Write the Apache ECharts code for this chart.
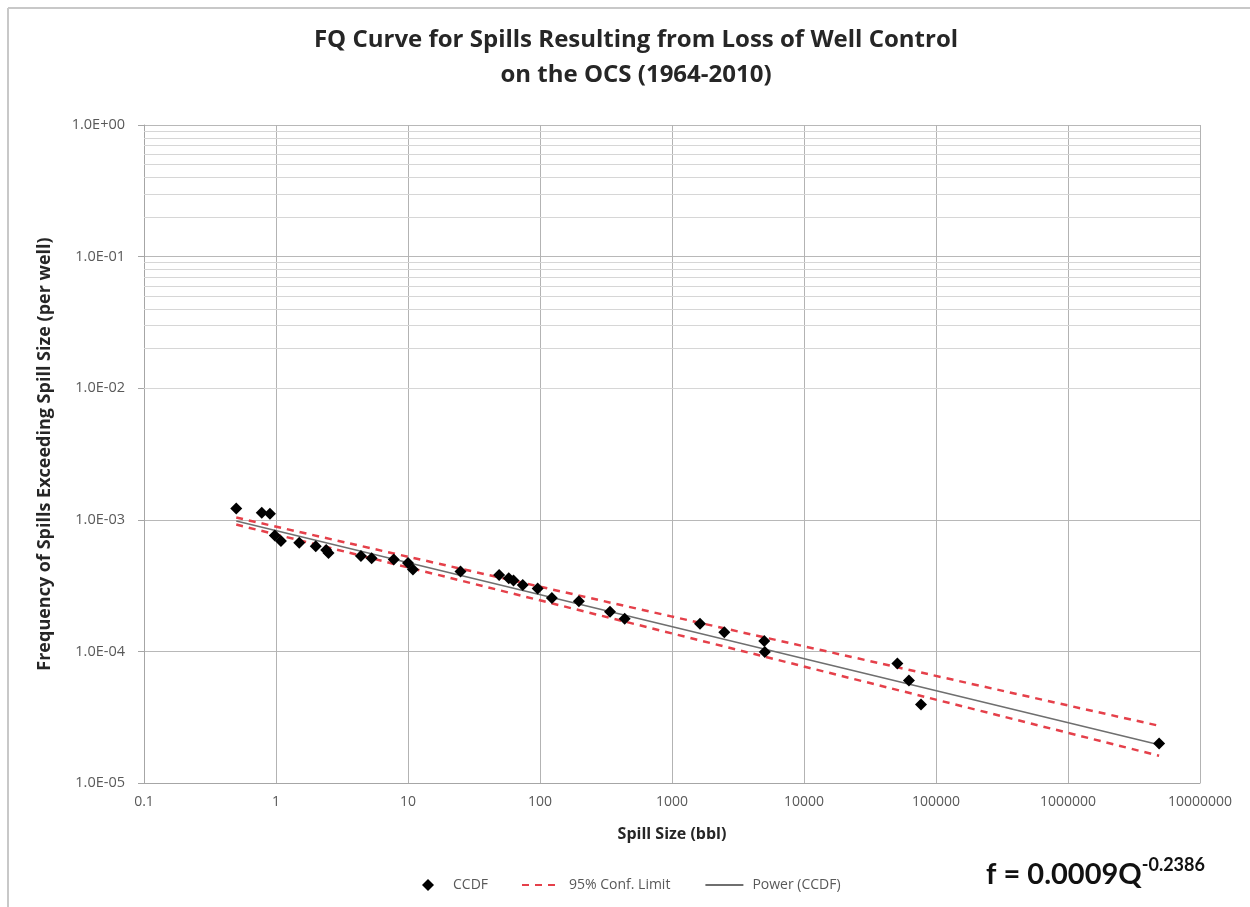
<!DOCTYPE html>
<html>
<head>
<meta charset="utf-8">
<script src="https://cdn.jsdelivr.net/npm/echarts@6/dist/echarts.min.js"></script>
<style>
  html, body { margin: 0; padding: 0; background: #fff; }
  #chart { width: 1250px; height: 907px; }
</style>
</head>
<body>
<div id="chart"></div>
<script>
// spill size (bbl) and frequency of spills exceeding that size (per well)
const ccdfSize = [0.5, 0.78, 0.9, 0.98, 1.09, 1.5, 2.0, 2.4, 2.5, 4.4, 5.3, 7.8, 10, 10.9, 25, 49, 58, 63, 74, 96,
  123, 197, 339, 438, 1630, 2490, 5000, 5050, 51000, 62400, 77000, 4900000];
const ccdfFreq = [1.22e-3, 1.13e-3, 1.11e-3, 7.6e-4, 6.9e-4, 6.7e-4, 6.3e-4, 5.9e-4, 5.6e-4, 5.3e-4, 5.1e-4, 5.0e-4,
  4.7e-4, 4.2e-4, 4.05e-4, 3.8e-4, 3.6e-4, 3.45e-4, 3.2e-4, 3.0e-4, 2.55e-4, 2.4e-4, 2.0e-4, 1.77e-4,
  1.62e-4, 1.4e-4, 1.2e-4, 9.9e-5, 8.1e-5, 6.0e-5, 3.95e-5, 2.0e-5];

// power trend line
const powerSize = [0.5, 4900000];
const powerFreq = [9.8e-4, 1.95e-5];

// 95% confidence limits
const confSize = [0.5, 1000, 4900000];
const confUpper = [1.04e-3, 1.84e-4, 2.72e-5];
const confLower = [9.2e-4, 1.37e-4, 1.61e-5];

const xTicks = ['0.1', '1', '10', '100', '1000', '10000', '100000', '1000000', '10000000'];
const yTicks = ['1.0E-05', '1.0E-04', '1.0E-03', '1.0E-02', '1.0E-01', '1.0E+00'];

// minor horizontal gridlines at 2..9 x each decade
const minorY = [];
for (let e = -5; e < 0; e++) {
  for (let m = 2; m <= 9; m++) minorY.push(m * Math.pow(10, e));
}

const zip = (a, b) => a.map((v, i) => [v, b[i]]);
const font = '"Open Sans", sans-serif';
const font2 = 'Lato, sans-serif';

const chart = echarts.init(document.getElementById('chart'));
chart.setOption({
  backgroundColor: '#fff',
  animation: false,
  title: {
    text: 'FQ Curve for Spills Resulting from Loss of Well Control\non the OCS (1964-2010)',
    left: 631,
    top: 18,
    textAlign: 'center',
    textStyle: { fontFamily: font, fontSize: 24, fontWeight: 'bold', color: '#262626', lineHeight: 35 }
  },
  grid: { left: 144, right: 50, top: 125, bottom: 124 },
  legend: [
    {
      left: 417,
      bottom: 10,
      itemWidth: 12,
      itemHeight: 12,
      textStyle: { fontFamily: font, fontSize: 14, color: '#595959', padding: [0, 0, 0, 14] },
      data: [{ name: 'CCDF', icon: 'diamond', itemStyle: { color: '#000' } }]
    },
    {
      left: 516,
      bottom: 10,
      itemGap: 34,
      itemWidth: 38,
      itemHeight: 10,
      textStyle: { fontFamily: font, fontSize: 14, color: '#595959', padding: [0, 0, 0, 4] },
      data: [
        { name: '95% Conf. Limit', itemStyle: { opacity: 0 } },
        { name: 'Power (CCDF)', itemStyle: { opacity: 0 } }
      ]
    }
  ],
  xAxis: {
    type: 'log',
    logBase: 10,
    min: 0.1,
    max: 10000000,
    name: 'Spill Size (bbl)',
    nameLocation: 'middle',
    nameGap: 43,
    nameTextStyle: { fontFamily: font, fontSize: 16, fontWeight: 'bold', color: '#262626' },
    axisLine: { lineStyle: { color: '#a6a6a6' } },
    axisTick: { show: false },
    axisLabel: {
      fontFamily: font, fontSize: 14, color: '#595959', margin: 12,
      formatter: v => xTicks[Math.round(Math.log10(v)) + 1]
    },
    splitLine: { show: true, lineStyle: { color: '#b3b3b3' } }
  },
  yAxis: {
    type: 'log',
    logBase: 10,
    min: 0.00001,
    max: 1,
    name: 'Frequency of Spills Exceeding Spill Size (per well)',
    nameLocation: 'middle',
    nameGap: 90,
    nameTextStyle: { fontFamily: font, fontSize: 18, fontWeight: 'bold', color: '#262626' },
    axisLine: { show: true, lineStyle: { color: '#a6a6a6' } },
    axisTick: { show: true, length: 6, lineStyle: { color: '#a6a6a6' } },
    axisLabel: {
      fontFamily: font, fontSize: 14.5, color: '#595959', margin: 19,
      formatter: v => yTicks[Math.round(Math.log10(v)) + 5]
    },
    splitLine: { show: true, lineStyle: { color: '#b8b8b8' } }
  },
  series: [
    {
      name: 'minor',
      type: 'line',
      data: [],
      silent: true,
      markLine: {
        silent: true,
        symbol: 'none',
        label: { show: false },
        lineStyle: { color: '#d6d6d6', type: 'solid', width: 1 },
        data: minorY.map(v => ({ yAxis: v }))
      }
    },
    {
      name: 'Power (CCDF)',
      type: 'line',
      data: zip(powerSize, powerFreq),
      symbol: 'none',
      color: '#7f7f7f',
      lineStyle: { color: '#6f6f6f', width: 1.5 },
      z: 3
    },
    {
      name: '95% Conf. Limit',
      type: 'line',
      data: zip(confSize, confUpper),
      smooth: true,
      symbol: 'none',
      color: '#e5404a',
      lineStyle: { color: '#e5404a', width: 2.5, type: [7, 6] },
      z: 3
    },
    {
      name: '95% Conf. Limit',
      type: 'line',
      data: zip(confSize, confLower),
      smooth: true,
      symbol: 'none',
      color: '#e5404a',
      lineStyle: { color: '#e5404a', width: 2.5, type: [7, 6] },
      z: 3
    },
    {
      name: 'CCDF',
      type: 'scatter',
      data: zip(ccdfSize, ccdfFreq),
      symbol: 'diamond',
      symbolSize: 12,
      itemStyle: { color: '#000', opacity: 1 },
      z: 4
    }
  ],
  graphic: [
    { type: 'line', shape: { x1: 8, y1: 8, x2: 1250, y2: 8 }, style: { stroke: '#c8c8c8', lineWidth: 2 } },
    { type: 'line', shape: { x1: 8, y1: 8, x2: 8, y2: 907 }, style: { stroke: '#c8c8c8', lineWidth: 2 } },
    {
      type: 'text',
      left: 986,
      top: 856,
      style: {
        text: '{a|f = 0.0009Q}{b|-0.2386}',
        rich: {
          a: { fontFamily: font2, fontSize: 29, fontWeight: 'bold', fill: '#111', verticalAlign: 'bottom', lineHeight: 34 },
          b: { fontFamily: font2, fontSize: 18, fontWeight: 'bold', fill: '#111', padding: [0, 0, 15, 0], verticalAlign: 'bottom', lineHeight: 34 }
        }
      }
    }
  ]
});
</script>
</body>
</html>
